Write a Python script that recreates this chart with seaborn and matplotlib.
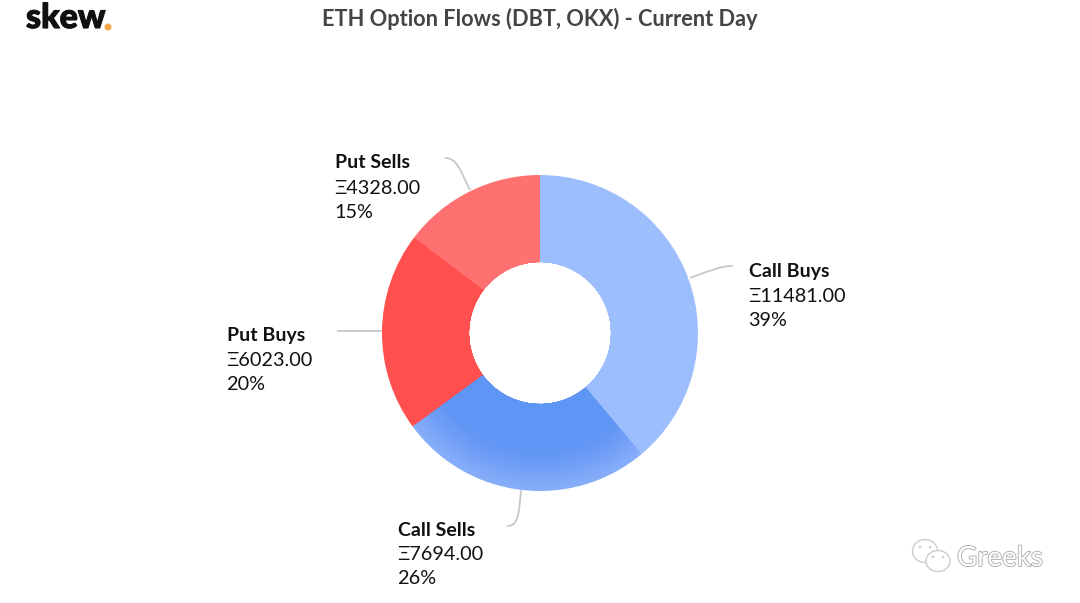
import matplotlib
matplotlib.use("Agg")
import matplotlib.pyplot as plt
import matplotlib.patheffects as pe
from matplotlib.patches import Ellipse, PathPatch
from matplotlib.path import Path
import seaborn as sns

categories = ["Call Buys", "Call Sells", "Put Buys", "Put Sells"]
flows = [11481.00, 7694.00, 6023.00, 4328.00]
percents = ["39%", "26%", "20%", "15%"]
colors = ["#9DBEFC", "#5F95F5", "#FF4F4F", "#FF7070"]
title = "ETH Option Flows (DBT, OKX) - Current Day"

sns.set_theme(style="white")
plt.rcParams["font.family"] = ["Lato", "DejaVu Sans"]

W, H = 1080, 603
fig = plt.figure(figsize=(W / 100, H / 100), dpi=100, facecolor="white")
ax = fig.add_axes([0, 0, 1, 1])

CX, CY, R, r = 540, 333, 158, 71

def Y(y):
    return H - y

# Call Sells fades lighter toward the rim: outer rings are drawn first
ring_radii = [158, 155, 152, 149, 146, 143, 140, 137, 134, 131, 128, 125, 122, 119, 116]
ring_sells = ["#86ADF8", "#83ABF8", "#80A9F8", "#7DA7F7", "#7AA5F7", "#77A3F7", "#74A1F7", "#719FF6",
              "#6E9DF6", "#6B9BF6", "#689AF6", "#6598F5", "#6397F5", "#6196F5", colors[1]]
for rad, sells in zip(ring_radii, ring_sells):
    ax.pie(flows, colors=[colors[0], sells, colors[2], colors[3]], startangle=90,
           counterclock=False, radius=rad, center=(CX, Y(CY)), frame=True,
           wedgeprops=dict(width=rad - r, linewidth=0))
ax.set_xlim(0, W)
ax.set_ylim(0, H)
ax.set_aspect("equal")
ax.axis("off")

# leader lines
leaders = [
    [(690, 278), (712, 270), (720, 266), (733, 266)],
    [(521, 490), (519, 515), (518, 526), (507, 526)],
    [(382, 331), (365, 331), (350, 331), (337, 331)],
    [(470, 190), (460, 170), (457, 158), (445, 158)],
]
for pts in leaders:
    p = Path([(x, Y(y)) for x, y in pts], [Path.MOVETO, Path.CURVE4, Path.CURVE4, Path.CURVE4])
    ax.add_patch(PathPatch(p, fc="none", ec="#C8C8C8", lw=1.3, zorder=3))

# data labels
label_pos = [(749, 271), (398, 530), (227, 336), (335, 163)]
for (x, y), name, val, pct in zip(label_pos, categories, flows, percents):
    ax.text(x, Y(y), name, fontsize=14, fontweight="bold", color="#111111", va="center", ha="left")
    ax.text(x - 1, Y(y + 25), f"Ξ{val:.2f}", fontsize=14.3, color="#111111", va="center", ha="left")
    ax.text(x - 1, Y(y + 49), pct, fontsize=14.3, color="#111111", va="center", ha="left")

# title and logo
ax.text(540, Y(19), title, fontsize=15.65, fontweight="bold", color="#444444", va="center", ha="center")
ax.text(26, Y(18), "skew", fontsize=24.5, fontweight="black", color="#111111", va="center", ha="left",
        path_effects=[pe.withStroke(linewidth=0.8, foreground="#111111")])
ax.add_patch(Ellipse((108, Y(27)), 7, 7, fc="#F5A94A", ec="none"))

# watermark
ax.text(957, Y(558), "Greeks", fontsize=20, color="white", va="center", ha="left",
        path_effects=[pe.withStroke(linewidth=1.2, foreground="#A8A8A8")])
for cx, cy, w, h in [(925, 551, 25, 23), (938, 561, 24, 21)]:
    ax.add_patch(Ellipse((cx, Y(cy)), w, h, fc="white", ec="#CCCCCC", lw=1))
for ex, ey in [(920, 547), (930, 547), (933, 557), (943, 557)]:
    ax.add_patch(Ellipse((ex, Y(ey)), 2.5, 2.5, fc="#CCCCCC", ec="none"))

fig.savefig("out.png", dpi=100, facecolor="white")
